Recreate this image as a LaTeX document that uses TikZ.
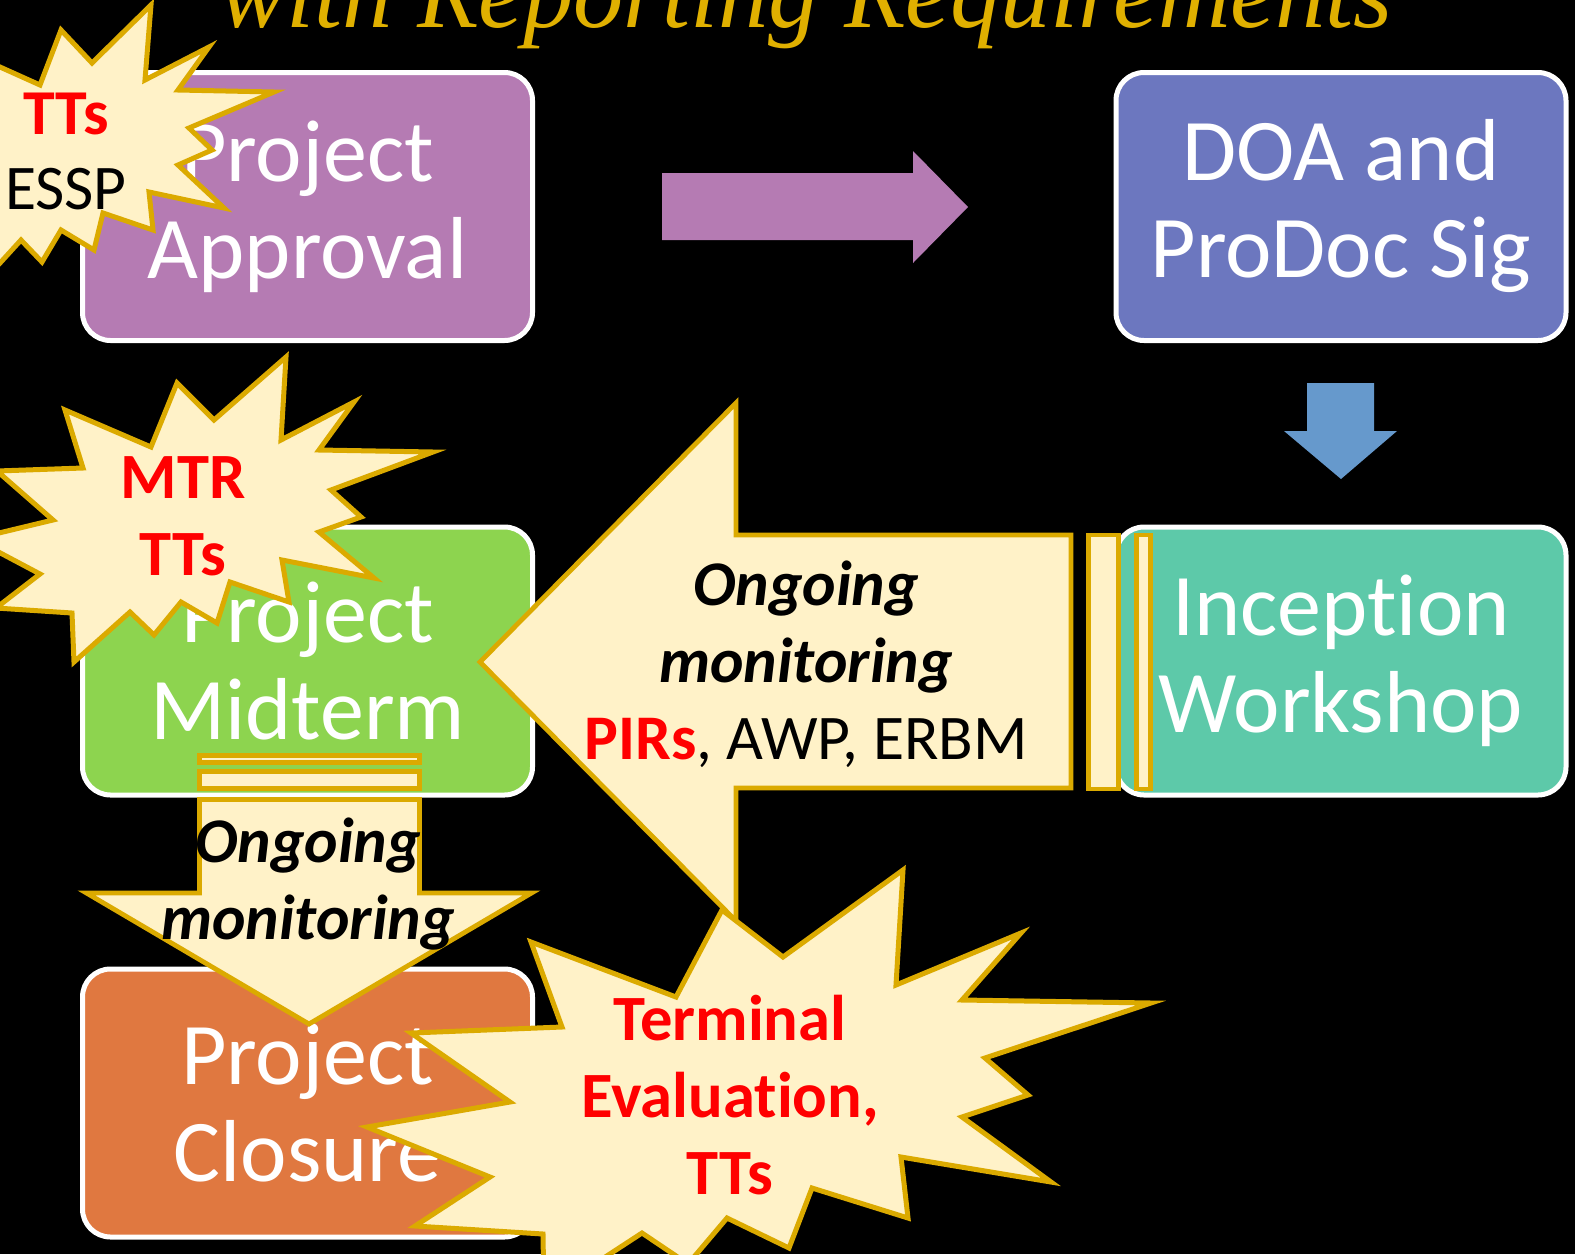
\documentclass[tikz,border=0pt]{standalone}
\usepackage{fontspec}
\setmainfont{Carlito}[Ligatures={NoCommon}]
\newfontfamily\titlefont{Liberation Serif}
\definecolor{approvalc}{RGB}{181,123,179}
\definecolor{doac}{RGB}{108,119,191}
\definecolor{inceptc}{RGB}{93,201,169}
\definecolor{midc}{RGB}{141,212,79}
\definecolor{closec}{RGB}{224,120,64}
\definecolor{bluearr}{RGB}{102,153,204}
\definecolor{cream}{RGB}{255,242,200}
\definecolor{goldc}{RGB}{219,170,0}
\definecolor{titlec}{RGB}{224,176,0}
\definecolor{ttred}{RGB}{255,0,0}
\begin{document}
\begin{tikzpicture}[x=0.5pt,y=-0.5pt,
  stage/.style={draw=white, line width=2.5pt, rounded corners=14pt,
    minimum width=225pt, minimum height=134pt, text=white, inner sep=0pt,
    align=center, font=\fontsize{44}{48.5}\selectfont},
  blockarrow/.style={draw=goldc, fill=cream, line width=2.4pt, line join=miter},
  burst/.style={draw=goldc, fill=cream, line width=2.5pt, line join=miter},
  armtext/.style={align=center, inner sep=0pt, text=black, font=\fontsize{31.8}{38.5}\selectfont},
  bursttext/.style={align=center, inner sep=0pt, text=ttred, font=\bfseries\fontsize{32.3}{38.5}\selectfont}
]
\useasboundingbox (0,0) rectangle (1575,1254);
\fill[black] (0,0) rectangle (1575,1254);
\clip (0,0) rectangle (1575,1254);

% title (cut off at the top, as in the reference)
\node[anchor=base, inner sep=0pt, text=titlec, font=\titlefont\itshape\fontsize{50.2}{55}\selectfont]
  (title) at (806,27) {with Reporting Requirements};

% stage boxes
\node[stage, fill=approvalc] (approval) at (307.5,206.5) {Project\\Approval};
\node[stage, fill=doac] (doa) at (1341,206.5) {DOA and\\ProDoc Sig};
\node[stage, fill=inceptc] (inception) at (1341,661) {Inception\\Workshop};
\node[stage, fill=midc] (midterm) at (307.5,661) {Project\\Midterm};
\node[stage, fill=closec] (closure) at (307.5,1103) {Project\\Closure};

% plain block arrows
\fill[approvalc] (662,173) -- (913,173) -- (913,151) -- (968,207) -- (913,263) -- (913,240) -- (662,240) -- cycle;
\fill[bluearr] (1307,383) -- (1374,383) -- (1374,431) -- (1397,431) -- (1341,479) -- (1284,431) -- (1307,431) -- cycle;

% striped left arrow (Inception -> Midterm)
\draw[blockarrow] (736,403) -- (480,662) -- (736,921) -- (736,788) -- (1071,788) -- (1071,535) -- (736,535) -- cycle;
\draw[blockarrow] (1088.5,535) rectangle (1118.5,789);
\draw[blockarrow] (1136.5,535) rectangle (1150.5,789);
\node[armtext] (lefttext) at (806,664)
  {\textbf{\textit{Ongoing}}\\\textbf{\textit{monitoring}}\\\textcolor{ttred}{\textbf{PIRs}}, AWP, ERBM};

% striped down arrow (Midterm -> Closure)
\draw[blockarrow] (199.5,755.5) rectangle (419.5,762.5);
\draw[blockarrow] (199.5,771.5) rectangle (419.5,788.5);
\draw[blockarrow] (199.5,799.5) -- (419.5,799.5) -- (419.5,893) -- (531.5,893) -- (309,1024) -- (86.5,893) -- (199.5,893) -- cycle;
\node[armtext] (downtext) at (308,884) {\textbf{\textit{Ongoing}}\\\textbf{\textit{monitoring}}};

% bursts
\draw[burst] (-20,58) -- (40,85) -- (61,30) -- (92,63) -- (151,5) -- (145,80) -- (209,47) -- (178,90) -- (274,92) -- (189,128) -- (212,150) -- (178,165) -- (224,208) -- (149,192) -- (153,230) -- (103,213) -- (94,250) -- (61,230) -- (42,262) -- (21,240) -- (-10,274) -- (-20,274) -- cycle;
\node[bursttext, font=\fontsize{32}{37.5}\selectfont] (burstone) at (66,151) {\textbf{TTs}\\\fontsize{31.8}{37.5}\selectfont\textcolor{black}{ESSP}};

\draw[burst] (286,357) -- (281,440) -- (354,402) -- (319,450) -- (433,452) -- (331,490) -- (361,517) -- (319,532) -- (374,578) -- (282,560) -- (289,602) -- (230,582) -- (217,623) -- (181,602) -- (154,635) -- (130,612) -- (74,662) -- (72,613) -- (-4,608) -- (40,574) -- (-26,539) -- (53,520) -- (-3,471) -- (83,468) -- (65,410) -- (151,447) -- (177,383) -- (214,420) -- cycle;
\node[bursttext] (bursttwo) at (183,516) {MTR\\TTs};

\draw[burst] (903,870) -- (896,985) -- (1021,933) -- (962,1000) -- (1151,1003) -- (985,1058) -- (1028,1095) -- (962,1117) -- (1051,1182) -- (901,1157) -- (908,1218) -- (812,1188) -- (789,1248) -- (727,1218) -- (688,1264) -- (642,1233) -- (544,1297) -- (543,1234) -- (415,1226) -- (490,1177) -- (367,1127) -- (510,1102) -- (411,1033) -- (562,1027) -- (531,942) -- (676,997) -- (722,910) -- (783,957) -- cycle;
\node[bursttext] (burstthree) at (730,1095) {Terminal\\Evaluation,\\TTs};
\end{tikzpicture}
\end{document}
